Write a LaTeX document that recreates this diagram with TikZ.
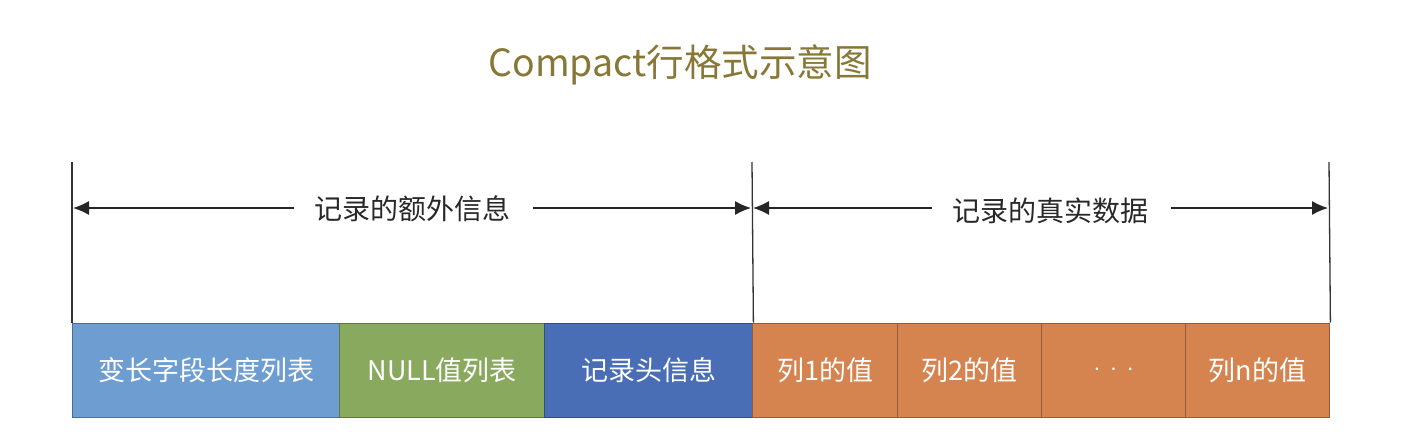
\documentclass[tikz,border=0pt]{standalone}
\usepackage{fontspec}
\setmainfont{Noto Sans CJK SC}
\usetikzlibrary{arrows.meta}
\definecolor{titlec}{RGB}{135,120,55}
\definecolor{cblue}{RGB}{110,157,210}
\definecolor{cgreen}{RGB}{137,170,94}
\definecolor{cdblue}{RGB}{74,110,182}
\definecolor{corange}{RGB}{213,132,80}
\definecolor{lblc}{RGB}{40,40,40}
\tikzset{
  cell/.style={draw=#1!70!black, fill=#1, line width=1.4pt, minimum height=94pt, inner sep=0pt, text=white, font=\fontsize{27}{30}\selectfont, anchor=south west},
  vline/.style={draw=black!80, line width=1.3pt},
  arr/.style={draw=black!85, line width=1.3pt, -{Latex[length=16pt,width=14pt]}},
  lbl/.style={text=lblc, font=\fontsize{28}{32}\selectfont, inner sep=0pt}
}
\begin{document}
\begin{tikzpicture}[x=1pt,y=-1pt]
\useasboundingbox (0,0) rectangle (1404,444);
% title
\node[text=titlec, font=\fontsize{37.5}{42}\selectfont] (title) at (680,65) {Compact行格式示意图};
% cells
\node[cell=cblue, minimum width=267pt] (c1) at (72,418) {变长字段长度列表};
\node[cell=cgreen, minimum width=205pt] (c2) at (339,418) {NULL值列表};
\node[cell=cdblue, minimum width=208pt] (c3) at (544,418) {记录头信息};
\node[cell=corange, minimum width=145pt] (c4) at (752,418) {列1的值};
\node[cell=corange, minimum width=144pt] (c5) at (897,418) {列2的值};
\node[cell=corange, minimum width=144pt] (c6) at (1041,418) {$\cdot\,\cdot\,\cdot$};
\node[cell=corange, minimum width=144pt] (c7) at (1185,418) {列n的值};
% vertical lines
\coordinate (v1t) at (72,162);
\coordinate (v2t) at (752,162);
\coordinate (v3t) at (1329,162);
\draw[vline] (v1t) -- (c1.north west);
\draw[vline] (v2t) -- (c3.north east);
\draw[vline] (v3t) -- (c7.north east);
% labels & arrows
\node[lbl] (l1) at (412,209) {记录的额外信息};
\node[lbl] (l2) at (1050,211) {记录的真实数据};
\coordinate (a1l) at (73,208);
\coordinate (a1r) at (751,208);
\coordinate (a2l) at (753,208);
\coordinate (a2r) at (1328,208);
\draw[arr] ([xshift=-20pt]l1.west |- a1l) -- (a1l);
\draw[arr] ([xshift=23pt]l1.east |- a1r) -- (a1r);
\draw[arr] ([xshift=-20pt]l2.west |- a2l) -- (a2l);
\draw[arr] ([xshift=23pt]l2.east |- a2r) -- (a2r);
\end{tikzpicture}
\end{document}
